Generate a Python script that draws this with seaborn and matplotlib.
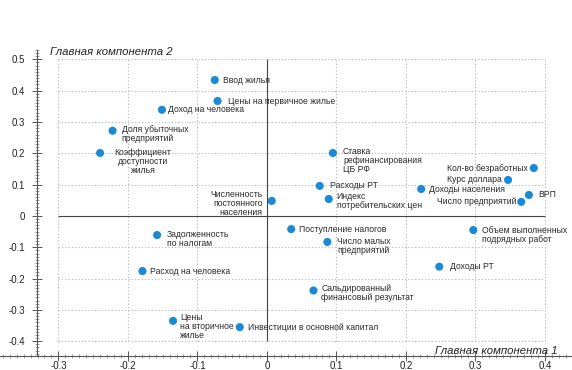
import numpy as np
import pandas as pd
import matplotlib
matplotlib.use("Agg")
import matplotlib.pyplot as plt
import seaborn as sns
from matplotlib.ticker import MultipleLocator

# PCA loadings (component 1, component 2)
labels = [
    "Ввод жилья", "Цены на первичное жилье", "Доход на человека",
    "Доля убыточных\nпредприятий", "Коэффициент\nдоступности\nжилья",
    "Численность\nпостоянного\nнаселения", "Ставка\nрефинансирования\nЦБ РФ",
    "Расходы РТ", "Индекс\nпотребительских цен", "Доходы населения",
    "Кол-во безработных", "Курс доллара", "ВРП", "Число предприятий",
    "Задолженность\nпо налогам", "Расход на человека",
    "Цены\nна вторичное\nжилье", "Инвестиции в основной капитал",
    "Поступление налогов", "Число малых\nпредприятий",
    "Объем выполненных\nподрядных работ", "Доходы РТ",
    "Сальдированный\nфинансовый результат",
]
pc1 = [-0.075, -0.071, -0.151, -0.222, -0.240, 0.007, 0.095, 0.076, 0.089, 0.222,
       0.384, 0.347, 0.377, 0.366, -0.158, -0.179, -0.135, -0.039, 0.035, 0.087,
       0.297, 0.248, 0.067]
pc2 = [0.434, 0.367, 0.339, 0.272, 0.201, 0.048, 0.201, 0.096, 0.054, 0.086,
       0.153, 0.115, 0.067, 0.045, -0.061, -0.176, -0.335, -0.355, -0.042, -0.083,
       -0.045, -0.162, -0.238]

x_ticks = [-0.3, -0.2, -0.1, 0, 0.1, 0.2, 0.3, 0.4]
y_ticks = [-0.4, -0.3, -0.2, -0.1, 0, 0.1, 0.2, 0.3, 0.4, 0.5]

df = pd.DataFrame({"label": labels, "pc1": pc1, "pc2": pc2})

# label placement: (ha, dx px, dy px)
place = {
    "Коэффициент\nдоступности\nжилья": ("center", 43, -9),
    "Численность\nпостоянного\nнаселения": ("right", -9, -2.5),
    "Кол-во безработных": ("right", -6, 0),
    "Курс доллара": ("right", -6, 0),
    "Число предприятий": ("right", -5, 0),
    "Ввод жилья": ("left", 8, 0),
    "Цены на первичное жилье": ("left", 10, 0),
    "Доход на человека": ("left", 6, 0),
    "Доля убыточных\nпредприятий": ("left", 9, -3.5),
    "Ставка\nрефинансирования\nЦБ РФ": ("left", 10, -8),
    "Расходы РТ": ("left", 10, 0),
    "Индекс\nпотребительских цен": ("left", 8, -2),
    "Доходы населения": ("left", 8, 0),
    "ВРП": ("left", 9, 0),
    "Задолженность\nпо налогам": ("left", 10, -4),
    "Расход на человека": ("left", 8, 0),
    "Цены\nна вторичное\nжилье": ("left", 7, -6),
    "Инвестиции в основной капитал": ("left", 8, 0),
    "Поступление налогов": ("left", 8, 0),
    "Число малых\nпредприятий": ("left", 10, -4.5),
    "Объем выполненных\nподрядных работ": ("left", 9, -4.5),
    "Доходы РТ": ("left", 11, 0),
    "Сальдированный\nфинансовый результат": ("left", 8, -3),
}

sns.set_style("white")
plt.rcParams["font.family"] = ["Liberation Sans", "DejaVu Sans"]

fig = plt.figure(figsize=(5.72, 3.70), dpi=100)
ax = fig.add_axes([0.0, 0.038, 1.0, 0.827])
ax.set_xlim(-0.384, 0.439)
ax.set_ylim(-0.447, 0.53)

# dotted grid inside the data range
grid_kw = dict(color="#b5b5b5", linewidth=0.8, linestyle=(0, (1, 2)), zorder=0)
ax.vlines([t for t in x_ticks if t != 0], y_ticks[0], y_ticks[-1], **grid_kw)
ax.hlines([t for t in y_ticks if t != 0], x_ticks[0], x_ticks[-1], **grid_kw)
ax.vlines(0, y_ticks[0], y_ticks[-1], color="#444444", linewidth=0.8, zorder=1)
ax.hlines(0, x_ticks[0], x_ticks[-1], color="#444444", linewidth=0.8, zorder=1)

sns.scatterplot(data=df, x="pc1", y="pc2", ax=ax, color="#1a8ad8", s=34,
                edgecolor="none", zorder=3, legend=False)

for _, r in df.iterrows():
    ha, dx, dy = place[r["label"]]
    ax.annotate(r["label"], (r["pc1"], r["pc2"]), xytext=(dx * 0.72, dy * 0.72),
                textcoords="offset points", ha=ha, va="center", multialignment=ha,
                fontsize=6.2, color="#2a2a2a", linespacing=1.0)

# spines & ticks
for s in ["top", "right"]:
    ax.spines[s].set_visible(False)
ax.spines["left"].set_position(("data", -0.331))
ax.spines["left"].set_bounds(-0.447, 0.53)
for s in ["left", "bottom"]:
    ax.spines[s].set_color("#555555")
    ax.spines[s].set_linewidth(0.8)

ax.set_xticks(x_ticks)
ax.set_yticks(y_ticks)
ax.set_xticklabels([f"{t:g}" for t in x_ticks])
ax.set_yticklabels([f"{t:g}" for t in y_ticks])
ax.xaxis.set_minor_locator(MultipleLocator(0.01))
ax.yaxis.set_minor_locator(MultipleLocator(0.01))
ax.tick_params(which="both", bottom=True, left=True)
ax.tick_params(which="major", direction="inout", length=7, width=0.7,
               color="#555555", labelsize=7, labelcolor="#222222")
ax.tick_params(axis="x", which="major", pad=0)
ax.tick_params(axis="y", which="major", pad=5)
ax.tick_params(which="minor", direction="inout", length=3, width=0.5, color="#777777")
ax.set_xlabel("")
ax.set_ylabel("")

ax.text(-0.312, 0.522, "Главная компонента 2", fontsize=8.2, style="italic",
        color="#222222", ha="left", va="center")
ax.text(0.418, -0.431, "Главная компонента 1", fontsize=8.2, style="italic",
        color="#222222", ha="right", va="center")

fig.savefig("out.png", dpi=100)
